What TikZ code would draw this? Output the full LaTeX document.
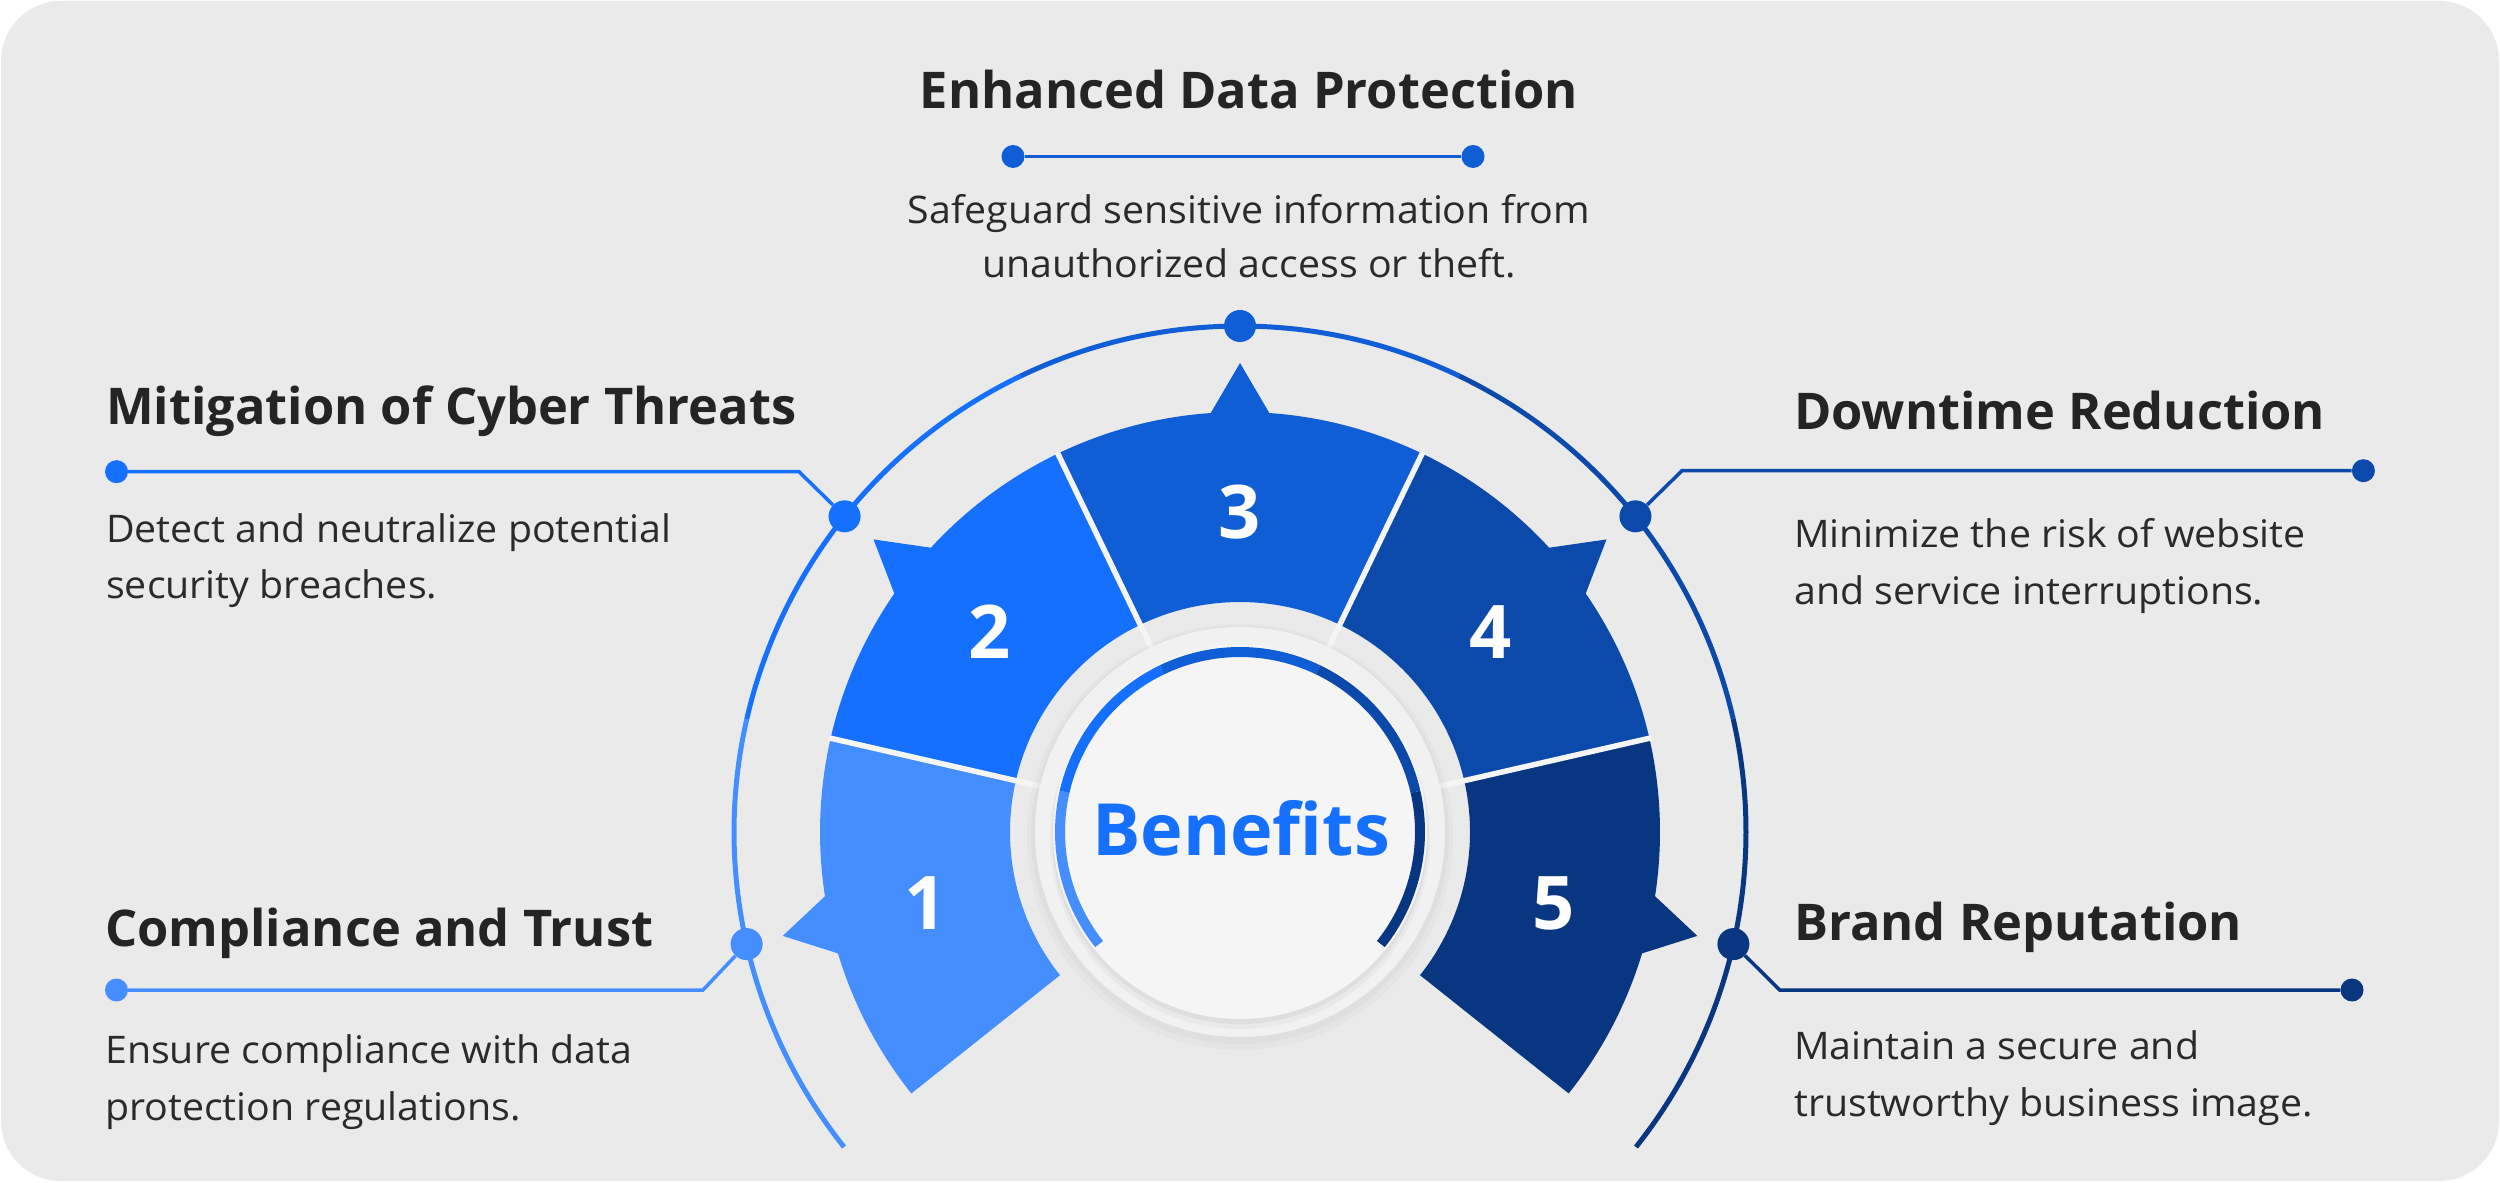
\documentclass[tikz,border=0pt]{standalone}
\usepackage{fontspec}
\setmainfont{Open Sans}
\newfontfamily\bodyfont{Open Sans}[FakeStretch=1.035]
\usetikzlibrary{calc}
\definecolor{bgc}{HTML}{EAEAEA}
\definecolor{c1}{HTML}{448EFF}
\definecolor{c2}{HTML}{1570FF}
\definecolor{c3}{HTML}{0F5ED6}
\definecolor{c4}{HTML}{0B4AAB}
\definecolor{c5}{HTML}{083680}
\definecolor{ldisc}{HTML}{F1F1F1}
\definecolor{wdisc}{HTML}{F5F5F5}
\definecolor{ttlc}{HTML}{242424}
\definecolor{bodyc}{HTML}{2A2A2A}
\begin{document}
\begin{tikzpicture}[x=1bp,y=1bp,
  ttl/.style={anchor=base west, inner sep=0, text=ttlc, font=\fontsize{50.6bp}{60bp}\selectfont\bfseries},
  ttlc/.style={ttl, anchor=base},
  bdy/.style={anchor=base west, inner sep=0, text=bodyc, font=\bodyfont\fontsize{38bp}{46bp}\selectfont},
  bdyc/.style={bdy, anchor=base},
  enddot/.style={circle, inner sep=0, minimum size=23bp, fill=#1},
  arcdot/.style={circle, inner sep=0, minimum size=32bp, fill=#1},
  conn/.style={line width=3.5bp, draw=#1},
  numtxt/.style={inner sep=0, text=white, font=\fontsize{74bp}{80bp}\selectfont\bfseries},
]
\useasboundingbox (0,0) rectangle (2500,1182);
\fill[white] (0,0) rectangle (2500,1182);
\fill[bgc, rounded corners=60bp] (1,1) rectangle (2499,1181);
\coordinate (C) at (1240,350);

% outer arc
\begin{scope}[shift={(C)}]
\foreach \a/\b/\col in {218.5/167.1/c1, 167.1/115.7/c2, 115.7/64.3/c3, 64.3/12.9/c4, 12.9/-38.5/c5}
  \draw[\col, line width=5bp] (\a:506) arc[start angle=\a, end angle=\b, radius=506];
% sectors
\foreach \a/\b/\m/\col in {218.5/167.1/192.8/c1, 167.1/115.7/141.4/c2, 115.7/64.3/90/c3, 64.3/12.9/38.6/c4, 12.9/-38.5/-12.8/c5}
  \fill[\col] (\a:230) -- (\a:420) arc[start angle=\a, end angle=\m+4, radius=420]
     -- (\m:469) -- ({\m-4}:420) arc[start angle=\m-4, end angle=\b, radius=420]
     -- (\b:230) arc[start angle=\b, end angle=\a, radius=230] -- cycle;
% dividers
\foreach \b in {167.1,115.7,64.3,12.9}
  \draw[wdisc, line width=5.5bp] (\b:203) -- (\b:422);
% discs
\fill[black, opacity=0.02] (0,-5) circle (213);
\fill[black, opacity=0.025] (0,-3) circle (209);
\fill[ldisc] (0,0) circle (205);
\fill[black, opacity=0.03] (0,-7) circle (190);
\fill[black, opacity=0.04] (0,-4) circle (188);
\fill[wdisc] (0,0) circle (187);
% inner ring
\foreach \a/\b/\col in {218.5/167.1/c1, 167.1/115.7/c2, 115.7/64.3/c3, 64.3/12.9/c4, 12.9/-38.5/c5}
  \draw[\col, line width=10bp] (\a:180) arc[start angle=\a, end angle=\b, radius=180];
% numbers
\node[numtxt] (n1) at (192.8:322) {1};
\node[numtxt] (n2) at (141.4:321) {2};
\node[numtxt] (n3) at (90:320) {3};
\node[numtxt] (n4) at (38.6:321) {4};
\node[numtxt] (n5) at (-12.8:322) {5};
\end{scope}

\node[anchor=base, inner sep=0, text=c2, font=\fontsize{72bp}{80bp}\selectfont\bfseries] (ben) at (1241,327) {Benefits};

% arc dots
\node[arcdot=c1] (d1) at ($(C)+(192.8:506)$) {};
\node[arcdot=c2] (d2) at ($(C)+(141.4:506)$) {};
\node[arcdot=c3] (d3) at ($(C)+(90:506)$) {};
\node[arcdot=c4] (d4) at ($(C)+(38.6:506)$) {};
\node[arcdot=c5] (d5) at ($(C)+(-12.8:506)$) {};

% top block
\node[ttlc] (t3) at (1249,1073) {Enhanced Data Protection};
\node[enddot=c3] (e3a) at (1013,1025.5) {};
\node[enddot=c3] (e3b) at (1473,1025.5) {};
\draw[conn=c3] (e3a) -- (e3b);
\node[bdyc] (b3a) at (1249,958.2) {Safeguard sensitive information from};
\node[bdyc] (b3b) at (1249,904) {unauthorized access or theft.};

% left top block
\node[ttl] (t2) at (106,757) {Mitigation of Cyber Threats};
\node[enddot=c2] (e2) at (116.5,710.3) {};
\coordinate (k2) at (799,710.3);
\draw[conn=c2] (e2) -- (k2) -- (d2);
\node[bdy] (b2a) at (106,639.3) {Detect and neutralize potential};
\node[bdy] (b2b) at (106,583) {security breaches.};

% right top block
\node[ttl] (t4) at (1794,752) {Downtime Reduction};
\node[enddot=c4] (e4) at (2363.4,711.3) {};
\coordinate (k4) at (1682,711.3);
\draw[conn=c4] (e4) -- (k4) -- (d4);
\node[bdy] (b4a) at (1794,634) {Minimize the risk of website};
\node[bdy] (b4b) at (1794,577) {and service interruptions.};

% left bottom block
\node[ttl] (t1) at (105,235.3) {Compliance and Trust};
\node[enddot=c1] (e1) at (116.5,192) {};
\coordinate (k1) at (703,192);
\draw[conn=c1] (e1) -- (k1) -- (d1);
\node[bdy] (b1a) at (105,118.7) {Ensure compliance with data};
\node[bdy] (b1b) at (105,62) {protection regulations.};

% right bottom block
\node[ttl] (t5) at (1794,241.3) {Brand Reputation};
\node[enddot=c5] (e5) at (2352,192) {};
\coordinate (k5) at (1779.7,192);
\draw[conn=c5] (e5) -- (k5) -- (d5);
\node[bdy] (b5a) at (1794,123) {Maintain a secure and};
\node[bdy] (b5b) at (1794,65.3) {trustworthy business image.};
\end{tikzpicture}
\end{document}
